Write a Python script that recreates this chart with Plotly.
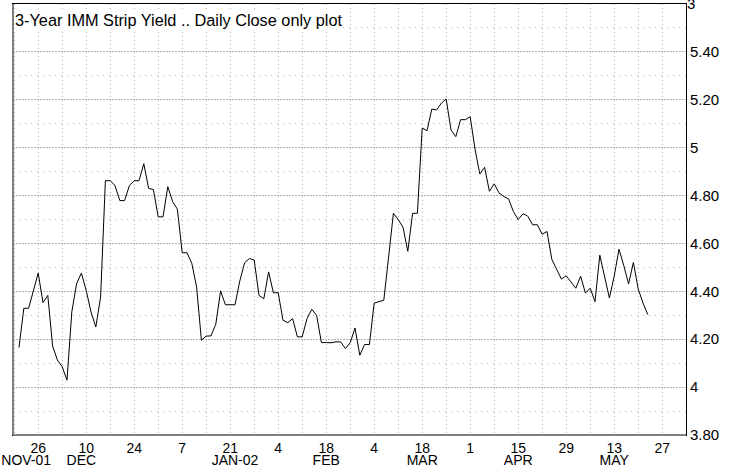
import pandas as pd
import plotly.graph_objects as go

# ---- data -------------------------------------------------------------
start_date = "2001-11-20"
yield_close = [
    4.165, 4.329, 4.329, 4.403, 4.476, 4.353, 4.383, 4.172, 4.113, 4.085,
    4.029, 4.314, 4.432, 4.476, 4.404, 4.314, 4.251, 4.376, 4.862, 4.862,
    4.842, 4.779, 4.779, 4.842, 4.862, 4.862, 4.933, 4.830, 4.825, 4.711,
    4.711, 4.837, 4.775, 4.743, 4.561, 4.561, 4.517, 4.418, 4.196, 4.213,
    4.214, 4.263, 4.402, 4.344, 4.344, 4.344, 4.443, 4.519, 4.537, 4.531,
    4.383, 4.369, 4.481, 4.394, 4.394, 4.279, 4.269, 4.286, 4.210, 4.210,
    4.286, 4.325, 4.300, 4.186, 4.186, 4.185, 4.189, 4.189, 4.161, 4.185,
    4.247, 4.133, 4.178, 4.178, 4.351, 4.358, 4.363, 4.543, 4.726, 4.700,
    4.668, 4.567, 4.726, 4.726, 5.082, 5.071, 5.161, 5.158, 5.186, 5.203,
    5.074, 5.046, 5.117, 5.117, 5.129, 4.994, 4.890, 4.918, 4.818, 4.849,
    4.811, 4.796, 4.786, 4.733, 4.700, 4.724, 4.714, 4.678, 4.678, 4.638,
    4.650, 4.534, 4.495, 4.451, 4.465, 4.440, 4.413, 4.463, 4.393, 4.413,
    4.357, 4.551, 4.463, 4.372, 4.463, 4.576, 4.507, 4.431, 4.521, 4.410,
    4.351, 4.303,
]
dates = pd.bdate_range(start_date, periods=len(yield_close))

day_tick_dates = ["2001-11-26", "2001-12-10", "2001-12-24", "2002-01-07",
                  "2002-01-21", "2002-02-04", "2002-02-18", "2002-03-04",
                  "2002-03-18", "2002-04-01", "2002-04-15", "2002-04-29",
                  "2002-05-13", "2002-05-27"]
day_tick_labels = ["26", "10", "24", "7", "21", "4", "18", "4", "18", "1",
                   "15", "29", "13", "27"]
month_tick_dates = ["2001-11-21 12:00", "2001-12-07", "2002-01-22", "2002-02-18",
                    "2002-03-18", "2002-04-15", "2002-05-13"]
month_tick_labels = ["NOV-01", "DEC", "JAN-02", "FEB", "MAR", "APR", "MAY"]
week_grid_dates = pd.date_range("2001-11-19", "2002-06-03", freq="7D")

y_tick_vals = [3.8, 4.0, 4.2, 4.4, 4.6, 4.8, 5.0, 5.2, 5.4]
y_tick_labels = ["3.80", "4", "4.20", "4.40", "4.60", "4.80", "5", "5.20", "5.40"]
y_top_label = "3"

title_text = "3-Year IMM Strip Yield .. Daily Close only plot"

# ---- figure -----------------------------------------------------------
x_range = ["2001-11-16 18:00", "2002-05-31 23:00"]
breaks = [dict(bounds=["sat", "mon"])]
grid_col = "#b4b4b4"
reg_font = "Liberation Sans, Arial, sans-serif"

fig = go.Figure()
fig.add_trace(go.Scatter(x=dates, y=yield_close, mode="lines",
                         line=dict(color="black", width=1), xaxis="x", yaxis="y",
                         hoverinfo="skip"))
# invisible trace to activate the month-label axis
fig.add_trace(go.Scatter(x=[dates[0]], y=[yield_close[0]], mode="markers",
                         marker=dict(opacity=0), xaxis="x2", yaxis="y",
                         hoverinfo="skip"))

fig.update_layout(
    width=736, height=476,
    margin=dict(l=13, r=50, t=4, b=41),
    plot_bgcolor="white", paper_bgcolor="white",
    showlegend=False,
    xaxis=dict(
        type="date", range=x_range, rangebreaks=breaks, automargin=False,
        tickmode="array", tickvals=day_tick_dates, ticktext=day_tick_labels,
        ticks="", tickangle=0, showgrid=True, gridcolor=grid_col, griddash="1px,3px",
        gridwidth=1,
        minor=dict(tickmode="array", tickvals=list(week_grid_dates), showgrid=True,
                   gridcolor=grid_col, griddash="1px,3px", gridwidth=1),
        showline=True, mirror=True, linecolor="black", linewidth=1,
        tickfont=dict(family=reg_font, size=14, color="black"),
        ticklabelstandoff=0,
        zeroline=False,
    ),
    xaxis2=dict(
        type="date", range=x_range, rangebreaks=breaks, overlaying="x",
        side="bottom", anchor="y", automargin=False,
        tickmode="array", tickvals=month_tick_dates, ticktext=month_tick_labels,
        ticks="", tickangle=0, showgrid=False, showline=False, zeroline=False,
        tickfont=dict(family=reg_font, size=14, color="black"),
        ticklabelstandoff=15,
    ),
    yaxis=dict(
        side="right", range=[3.8, 5.6], automargin=False,
        tickmode="array", tickvals=y_tick_vals, ticktext=y_tick_labels,
        ticks="", showgrid=True, gridcolor=grid_col, griddash="2px,1px", gridwidth=1,
        minor=dict(dtick=0.1, tick0=3.8, showgrid=True, gridcolor=grid_col,
                   griddash="1px,5px", gridwidth=1),
        showline=True, mirror=True, linecolor="black", linewidth=1,
        tickfont=dict(family=reg_font, size=15, color="black"),
        ticklabelstandoff=0,
        zeroline=False,
    ),
    annotations=[
        dict(text=title_text, xref="paper", yref="paper", x=0, y=1,
             xanchor="left", yanchor="top", xshift=1, yshift=-6, showarrow=False,
             bgcolor="white", borderpad=0,
             font=dict(family=reg_font, size=16.3, color="black")),
        dict(text=y_top_label, xref="paper", yref="paper", x=1, y=1,
             xanchor="left", yanchor="middle", xshift=-1, yshift=1, showarrow=False,
             font=dict(family=reg_font, size=15, color="black")),
    ],
    shapes=[
        dict(type="line", xref="paper", yref="paper", x0=0, x1=0, y0=0, y1=1,
             line=dict(color="#808080", width=2)),
        dict(type="line", xref="paper", yref="paper", x0=0, x1=1, y0=0, y1=0,
             line=dict(color="#808080", width=2)),
    ],
)

fig.write_html("out.html", config={"displayModeBar": False},
               post_script="document.body.style.margin='0';")
